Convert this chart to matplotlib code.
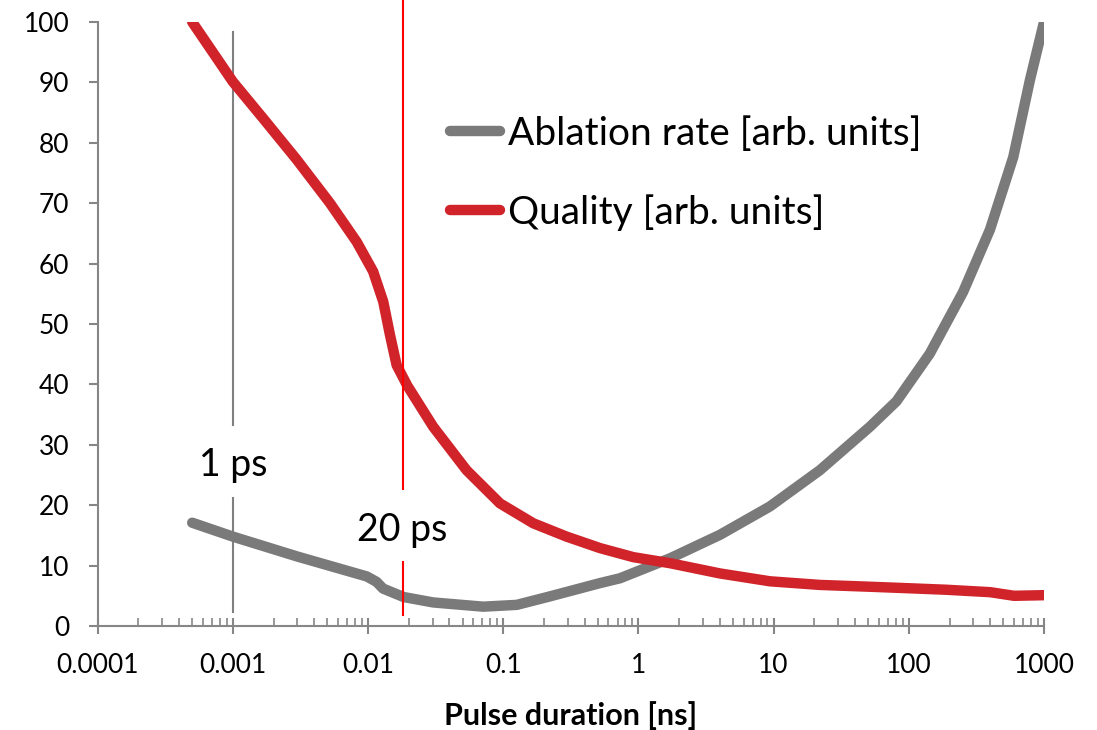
import matplotlib
matplotlib.use("Agg")
import matplotlib.pyplot as plt

plt.rcParams['font.family'] = ['Lato', 'DejaVu Sans']

# pulse duration [ns] and curve values
abl_x = [0.0005, 0.001, 0.003, 0.0098, 0.01157, 0.0129, 0.0183, 0.0303, 0.071,
         0.126, 0.221, 0.519, 0.73, 1.71, 4.01, 9.4, 22, 51.6, 81, 143,
         252, 398, 592, 787, 1000]
abl_y = [17.1, 14.8, 11.5, 8.2, 7.3, 6.2, 4.8, 3.9, 3.2,
         3.5, 4.9, 7.1, 7.9, 11.2, 15.1, 19.8, 25.8, 33.0, 37.2, 45.1,
         55.3, 65.6, 77.6, 90.4, 100]

qual_x = [0.0005, 0.001, 0.00168, 0.00297, 0.00523, 0.00824, 0.0109, 0.01295,
          0.01452, 0.01626, 0.0195, 0.0303, 0.0535, 0.0946, 0.167, 0.294, 0.519,
          0.916, 1.71, 4.01, 9.4, 22, 51.6, 114, 190, 400, 600, 1000]
qual_y = [100, 90.1, 84.0, 77.2, 70.0, 63.6, 58.7, 53.7,
          48.2, 43.2, 39.8, 33.0, 25.8, 20.3, 17.0, 14.8, 12.9,
          11.4, 10.4, 8.7, 7.4, 6.8, 6.5, 6.2, 6.0, 5.6, 5.0, 5.1]

labels = ['Ablation rate [arb. units]', 'Quality [arb. units]']
yticks = list(range(0, 101, 10))
xticks = [0.0001, 0.001, 0.01, 0.1, 1, 10, 100, 1000]
xticklabels = ['0.0001', '0.001', '0.01', '0.1', '1', '10', '100', '1000']

gray = '#7a7a7a'
red = '#d0232a'
axcol = '#868686'

fig = plt.figure(figsize=(10.97, 7.30), dpi=100)
ax = fig.add_axes([97.7 / 1097, 1 - 626 / 730, (1044 - 97.7) / 1097, (626 - 22) / 730])

ax.plot(abl_x, abl_y, color=gray, lw=7.5, solid_capstyle='round',
        solid_joinstyle='round', label=labels[0], zorder=3)
ax.plot(qual_x, qual_y, color=red, lw=7.5, solid_capstyle='round',
        solid_joinstyle='round', label=labels[1], zorder=3)

# marker lines at 1 ps and 20 ps, broken around their labels
ax.plot([0.001, 0.001], [98.3, 33.3], color='#808080', lw=1.5, zorder=2)
ax.plot([0.001, 0.001], [21.2, 2.3], color='#808080', lw=1.5, zorder=2)
ax.plot([0.018, 0.018], [103.6, 22.7], color='#ff0000', lw=1.5, zorder=4, clip_on=False)
ax.plot([0.018, 0.018], [10.6, 1.8], color='#ff0000', lw=1.5, zorder=4)
ax.text(0.001, 26.6, '1 ps', fontsize=27, ha='center', va='center')
ax.text(0.018, 15.9, '20 ps', fontsize=27, ha='center', va='center')

ax.set_xscale('log')
ax.set_xlim(0.0001, 1000)
ax.set_ylim(0, 100)
ax.set_xticks(xticks)
ax.set_xticklabels(xticklabels)
ax.set_yticks(yticks)
ax.xaxis.set_minor_locator(matplotlib.ticker.LogLocator(base=10, subs=range(2, 10), numticks=20))
ax.xaxis.set_minor_formatter(matplotlib.ticker.NullFormatter())

for s in ['top', 'right']:
    ax.spines[s].set_visible(False)
for s in ['left', 'bottom']:
    ax.spines[s].set_color(axcol)
    ax.spines[s].set_linewidth(1.5)

ax.tick_params(axis='y', direction='out', length=6.5, width=1.5, color=axcol,
               labelsize=19, pad=14)
ax.tick_params(axis='x', which='major', direction='inout', length=11.5, width=1.5,
               color=axcol, labelsize=19, pad=14)
ax.tick_params(axis='x', which='minor', direction='in', length=5.5, width=1.2, color=axcol)

ax.set_xlabel('Pulse duration [ns]', fontsize=22, fontweight='bold', labelpad=16)

leg = ax.legend(loc='upper left', bbox_to_anchor=(450 / 1097, 1 - 116 / 730),
                bbox_transform=fig.transFigure, frameon=False, fontsize=28,
                handlelength=1.29, handletextpad=0.2, labelspacing=1.08,
                borderpad=0, borderaxespad=0)

fig.savefig('out.png', dpi=100)
